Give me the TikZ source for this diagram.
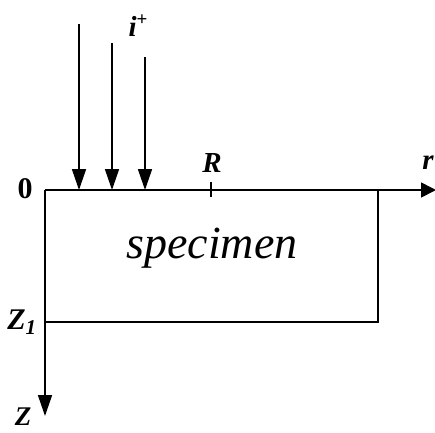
\documentclass[tikz,border=0pt]{standalone}
\usepackage{fontspec}
\setmainfont{Liberation Serif}
\usetikzlibrary{arrows.meta}
\begin{document}
\begin{tikzpicture}[x=1pt,y=-1pt,
  axis/.style={line width=1.6pt},
  boxline/.style={line width=1.3pt},
  lbl/.style={inner sep=0pt,font=\fontsize{29}{29}\selectfont\bfseries\itshape},
  tip/.style={-{Triangle[length=21pt,width=14pt]}}]
\useasboundingbox (0,0) rectangle (435,432);
% coordinates
\coordinate (O) at (45,190);
\coordinate (rend) at (436,190);
\coordinate (zend) at (45,416);
\coordinate (TR) at (378,190);
\coordinate (BR) at (378,322);
\coordinate (Z1) at (45,322);
\coordinate (Rt) at (211,182);
\coordinate (Rb) at (211,197);
\coordinate (a1s) at (79,24);  \coordinate (a1e) at (79,190);
\coordinate (a2s) at (112,43); \coordinate (a2e) at (112,190);
\coordinate (a3s) at (145,57); \coordinate (a3e) at (145,190);
% axes
\draw[axis,-{Triangle[length=15pt,width=15pt]}] (O) -- (rend);
\draw[axis,-{Triangle[length=21pt,width=14pt]}] (O) -- (zend);
% specimen box
\draw[boxline] (TR) -- (BR) -- (Z1);
\draw[boxline] (Rt) -- (Rb);
% incident arrows
\draw[axis,tip] (a1s) -- (a1e);
\draw[axis,tip] (a2s) -- (a2e);
\draw[axis,tip] (a3s) -- (a3e);
% labels
\node[lbl] (ip) at (138,26) {i\raisebox{0.38em}{\fontsize{19}{19}\selectfont\upshape +}};
\node[lbl,font=\fontsize{30}{30}\selectfont\bfseries] (zero) at (25,189) {0};
\node[lbl] (Rl) at (212,163) {R};
\node[lbl] (rl) at (428,163) {r};
\node[lbl,font=\fontsize{30}{30}\selectfont\bfseries\itshape] (Z1l) at (22,322) {Z\textsubscript{1}};
\node[lbl,font=\fontsize{27}{27}\selectfont\bfseries\itshape,anchor=base] (Zl) at (23,425) {Z};
\node[inner sep=0pt,font=\fontsize{46}{46}\selectfont\itshape] (spec) at (212,248) {specimen};
\end{tikzpicture}
\end{document}
